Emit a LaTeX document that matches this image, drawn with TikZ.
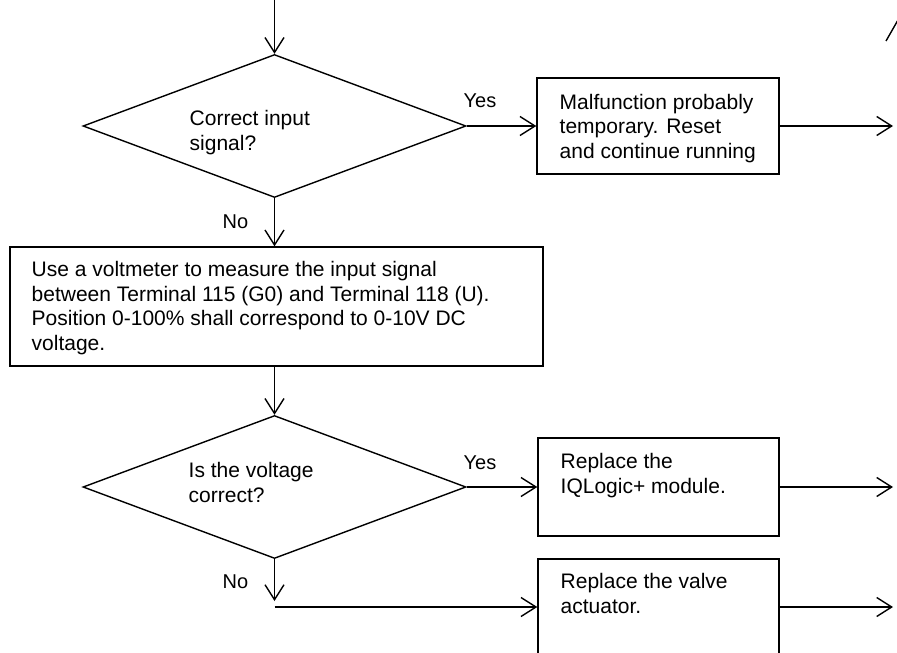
\documentclass[tikz,border=0pt]{standalone}
\usepackage{fontspec}
\setmainfont{Liberation Sans}
\usetikzlibrary{shapes.geometric,arrows.meta}
\begin{document}
\begin{tikzpicture}[x=1pt,y=-1pt,
  line width=1.4pt,
  >={Straight Barb[length=15pt,width=19pt,line width=1.4pt]},
  boxnode/.style={draw,rectangle,inner sep=0pt},
  decision/.style={draw,diamond,inner sep=0pt,minimum width=383pt,minimum height=143pt},
  txt/.style={anchor=base west,inner sep=0pt,align=left,
    font=\fontsize{21pt}{24.5pt}\selectfont},
  lbl/.style={anchor=base west,inner sep=0pt,font=\fontsize{20pt}{24pt}\selectfont}]
\useasboundingbox (0,0) rectangle (897,653);
\clip (0,0) rectangle (897,653);
% shapes
\node[decision] (d1) at (274.5,126) {};
\node[boxnode,minimum width=242pt,minimum height=96pt] (b1) at (658,126) {};
\node[boxnode,minimum width=533pt,minimum height=119pt] (b2) at (276.5,306.5) {};
\node[decision] (d2) at (274.5,487) {};
\node[boxnode,minimum width=241pt,minimum height=98pt] (b3) at (658.5,487) {};
\node[boxnode,minimum width=241pt,minimum height=120pt] (b4) at (658.5,619) {};
% texts (anchored at the baseline of the last line)
\node[txt] (t1) at (189,150) {Correct input\\signal?};
\node[txt] (t2) at (559,158) {Malfunction probably\\temporary. Reset\\and continue running};
\node[txt] (t3) at (31,350) {Use a voltmeter to measure the input signal\\between Terminal 115 (G0) and Terminal 118 (U).\\Position 0-100\% shall correspond to 0-10V DC\\voltage.};
\node[txt] (t4) at (188,502) {Is the voltage\\correct?};
\node[txt] (t5) at (560,493) {Replace the\\IQLogic+ module.};
\node[txt] (t6) at (560,613) {Replace the valve\\actuator.};
\node[lbl] (y1) at (463,107) {Yes};
\node[lbl] (y2) at (463,469) {Yes};
\node[lbl] (n1) at (222,228) {No};
\node[lbl] (n2) at (222,588) {No};
% connectors
\coordinate (top) at (274.5,0);
\coordinate (o1) at (893,126);
\coordinate (o3) at (893,487);
\coordinate (o4) at (893,607);
\coordinate (bend) at (274.5,601);
\coordinate (s1) at (886,41);
\coordinate (s2) at (898,20);
\draw[->] (top) -- (d1.north);
\draw[->] (d1.east) -- (d1.east -| b1.west);
\draw[->] (b1.east) -- (o1);
\draw[->] (d1.south) -- (d1.south |- b2.north);
\draw[->] (b2.south -| d2.north) -- (d2.north);
\draw[->] (d2.east) -- (d2.east -| b3.west);
\draw[->] (b3.east) -- (o3);
\draw[->] (d2.south) -- (bend);
\draw[->] (bend |- o4) -- (o4 -| b4.west);
\draw[->] (o4 -| b4.east) -- (o4);
\draw (s1) -- (s2);
\end{tikzpicture}
\end{document}
